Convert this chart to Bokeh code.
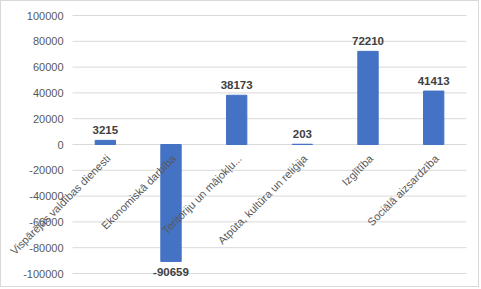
import math
from bokeh.plotting import figure
from bokeh.models import ColumnDataSource, Range1d
from bokeh.core.properties import value
from bokeh.embed import file_html
from bokeh.resources import INLINE

categories = ["Vispārējās valdības dienesti", "Ekonomiskā darbība", "Teritoriju un mājokļu...",
              "Atpūta, kultūra un reliģija", "Izglītība", "Sociālā aizsardzība"]
values = [3215, -90659, 38173, 203, 72210, 41413]
y_ticks = [-100000, -80000, -60000, -40000, -20000, 0, 20000, 40000, 60000, 80000, 100000]

n = len(categories)
xs = list(range(n))
src = ColumnDataSource(dict(x=xs, cat=categories, val=values, zero=[0] * n))
pos = ColumnDataSource(dict(x=[x for x, v in zip(xs, values) if v >= 0],
                            val=[v for v in values if v >= 0],
                            lab=[str(v) for v in values if v >= 0]))
neg = ColumnDataSource(dict(x=[x for x, v in zip(xs, values) if v < 0],
                            val=[v for v in values if v < 0],
                            lab=[str(v) for v in values if v < 0]))
grid = ColumnDataSource(dict(y=y_ticks, lab=[str(t) for t in y_ticks],
                             x0=[-0.5] * len(y_ticks), x1=[n - 0.5] * len(y_ticks)))

W, H = 479, 287
# frame covers the whole canvas; the plotting area spans px 71..465 (x) and 14..272 (y)
px_per_cat = (465 - 71) / n
x_start = -0.5 - 71 / px_per_cat
x_end = n - 0.5 + (W - 465) / px_per_cat
u_per_px = (y_ticks[-1] - y_ticks[0]) / (272 - 14)
y_end = y_ticks[-1] + 14 * u_per_px
y_start = y_ticks[0] - (H - 272) * u_per_px

p = figure(width=W, height=H, output_backend="svg", toolbar_location=None,
           x_range=Range1d(x_start, x_end), y_range=Range1d(y_start, y_end),
           min_border=0, min_border_left=0, min_border_right=0,
           min_border_top=0, min_border_bottom=0)
p.styles = {"border": "1px solid #d9d9d9"}
p.outline_line_color = None
p.background_fill_color = "white"
p.border_fill_color = "white"
p.axis.visible = False
p.grid.visible = False

font = value("Liberation Sans")

# gridlines and y tick labels
p.segment(x0="x0", x1="x1", y0="y", y1="y", source=grid, line_color="#d9d9d9", line_width=1)
p.text(x="x0", y="y", text="lab", source=grid, text_align="right", text_baseline="middle",
       x_offset=-9, text_font=font, text_font_size="11px", text_color="#595959")

p.vbar(x="x", top="val", bottom=0, width=0.31, source=src,
       fill_color="#4472c4", line_color="#4472c4")

p.text(x="x", y="val", text="lab", source=pos, text_align="center", text_baseline="bottom",
       y_offset=-6, text_font=font, text_font_style="bold",
       text_font_size="11.5px", text_color="#404040")
p.text(x="x", y="val", text="lab", source=neg, text_align="center", text_baseline="top",
       y_offset=7, text_font=font, text_font_style="bold",
       text_font_size="11.5px", text_color="#404040")

p.text(x="x", y="zero", text="cat", source=src, angle=math.pi / 4, text_align="right",
       text_baseline="middle", x_offset=3, y_offset=12,
       text_font=font, text_font_size="11px", text_color="#595959")

open("out.html", "w").write(file_html(p, INLINE))
